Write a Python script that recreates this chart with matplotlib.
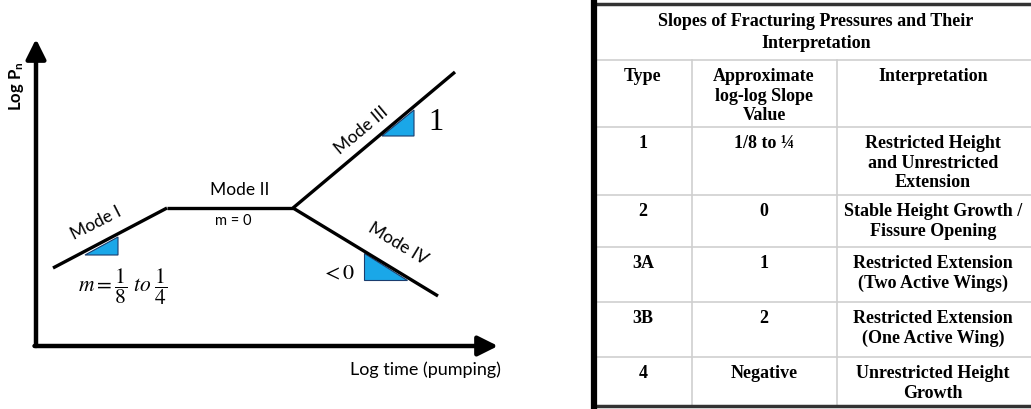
import matplotlib
matplotlib.use("Agg")
import matplotlib.pyplot as plt
from matplotlib.patches import Polygon, FancyArrowPatch

plt.rcParams["mathtext.fontset"] = "stix"

W, H = 1031, 410

# schematic: log-log pressure curve (pixel space, y grows downward)
mode1_x = [53, 167]
mode1_y = [269, 209]
mode2_x = [167, 293]
mode2_y = [209, 209]
mode3_x = [293, 455]
mode3_y = [209, 73]
mode4_x = [293, 438]
mode4_y = [209, 297]

# slope triangles
tri1 = [(85, 256), (118, 238), (118, 256)]
tri3 = [(382, 137), (414, 111), (414, 137)]
tri4 = [(364, 254), (364, 281), (407, 281)]

# table
col_edges = [594, 692, 837, 1031]
row_edges = [5, 61, 128, 196, 248, 303, 358, 407]
title_lines = ["Slopes of Fracturing Pressures and Their", "Interpretation"]
header = ["Type", "Approximate\nlog-log Slope\nValue", "Interpretation"]
types = ["1", "2", "3A", "3B", "4"]
slopes = ["1/8 to \u00bc", "0", "1", "2", "Negative"]
interp = ["Restricted Height\nand Unrestricted\nExtension",
          "Stable Height Growth /\nFissure Opening",
          "Restricted Extension\n(Two Active Wings)",
          "Restricted Extension\n(One Active Wing)",
          "Unrestricted Height\nGrowth"]

fig = plt.figure(figsize=(W / 100, H / 100), dpi=100)
ax = fig.add_axes([0, 0, 1, 1])
ax.set_xlim(0, W)
ax.set_ylim(H, 0)
ax.axis("off")

# axes arrows
ax.add_patch(FancyArrowPatch((36, 347), (36, 40), arrowstyle="-|>,head_length=12,head_width=6",
                             lw=3.2, color="black", mutation_scale=1, shrinkA=0, shrinkB=0))
ax.add_patch(FancyArrowPatch((34.5, 347), (498, 347), arrowstyle="-|>,head_length=12,head_width=6",
                             lw=3.2, color="black", mutation_scale=1, shrinkA=0, shrinkB=0))

for xs, ys in [(mode1_x, mode1_y), (mode2_x, mode2_y), (mode3_x, mode3_y), (mode4_x, mode4_y)]:
    ax.plot(xs, ys, color="black", lw=2.4, solid_capstyle="butt", solid_joinstyle="miter")

for tri in [tri1, tri3, tri4]:
    ax.add_patch(Polygon(tri, closed=True, facecolor="#1aa7e8", edgecolor="#1a3d6e", lw=0.8, zorder=1))

sans = "Lato"
ax.text(16, 86, r"Log P$_\mathregular{n}$", rotation=90, ha="center", va="center",
        fontsize=12, fontweight="bold", family=sans)
ax.text(96, 223, "Mode I", rotation=27, ha="center", va="center", fontsize=12.5, family=sans)
ax.text(240, 190, "Mode II", ha="center", va="center", fontsize=12.5, family=sans)
ax.text(233, 221, "m = 0", ha="center", va="center", fontsize=10.5, family=sans)
ax.text(361, 131, "Mode III", rotation=40, ha="center", va="center", fontsize=12.5, family=sans)
ax.text(398, 244, "Mode IV", rotation=-31, ha="center", va="center", fontsize=12.5, family=sans)
ax.text(436, 123, "1", ha="center", va="center", fontsize=22, family="Liberation Serif")
ax.text(338, 273, r"$<0$", ha="center", va="center", fontsize=16)
ax.text(123, 287, r"$m=\dfrac{1}{8}\ to\ \dfrac{1}{4}$", ha="center", va="center", fontsize=15.5)
ax.text(425, 370, "Log time (pumping)", ha="center", va="center", fontsize=13, family=sans)

# table grid
grid = "#cfcfcf"
x0, x1 = col_edges[0], col_edges[-1]
for y in row_edges[1:-1]:
    ax.plot([x0, x1], [y, y], color=grid, lw=1.2)
for x in col_edges[1:-1]:
    ax.plot([x, x], [row_edges[1], row_edges[-1]], color=grid, lw=1.2)
ax.plot([x0, x1], [row_edges[0], row_edges[0]], color="#333333", lw=2.5)
ax.plot([x0, x1], [row_edges[-1], row_edges[-1]], color="#333333", lw=2.5)
ax.plot([x0, x0], [row_edges[0] - 1, row_edges[-1] + 1], color="black", lw=4.5)

serif = "Liberation Serif"
fs = 13
ax.text(816, 13, "\n".join(title_lines), ha="center", va="top",
        fontsize=fs, fontweight="bold", family=serif, linespacing=1.4)

centers = [643, 764, 933]
rows = [header] + [[t, s, i] for t, s, i in zip(types, slopes, interp)]
for r, cells in enumerate(rows):
    top = row_edges[r + 1] + 7
    for c, txt in enumerate(cells):
        ax.text(centers[c], top, txt, ha="center", va="top", fontsize=fs,
                fontweight="bold", family=serif, linespacing=1.2)

fig.savefig("out.png", dpi=100)
